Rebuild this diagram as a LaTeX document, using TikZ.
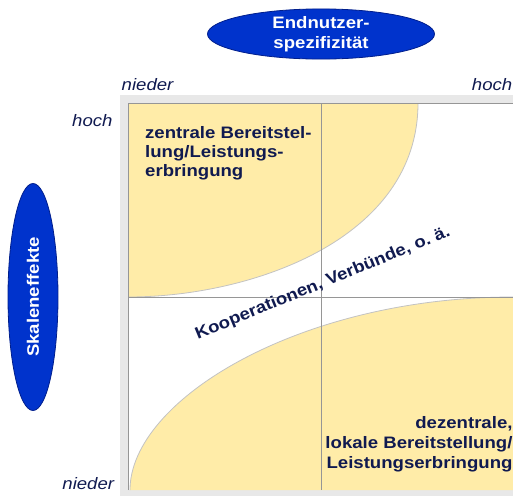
\documentclass[tikz,border=0pt]{standalone}
\usepackage{fontspec}
\setmainfont{Liberation Sans}[FakeStretch=1.12]
\usetikzlibrary{shapes.geometric}
\definecolor{navy}{RGB}{16,26,80}
\definecolor{pale}{RGB}{255,236,168}
\definecolor{blob}{RGB}{0,51,204}
\definecolor{rim}{RGB}{0,30,140}
\definecolor{frame}{RGB}{232,232,232}
\definecolor{rule}{RGB}{150,150,150}
\definecolor{edge}{RGB}{195,195,195}

\begin{document}
\begin{tikzpicture}[
 x=1pt, y=-1pt,
 inner sep=0pt,
 font=\fontsize{16.6}{18.7}\selectfont,
 pill/.style={ellipse,fill=blob,draw=rim,line width=0.8pt,text=white,align=center,
   font=\fontsize{16.6}{20}\selectfont\bfseries,minimum width=227pt,minimum height=50pt},
 tick/.style={text=navy,font=\fontsize{16.6}{18.7}\selectfont\itshape},
 label/.style={text=navy,font=\fontsize{16.6}{18.7}\selectfont\bfseries},
 region/.style={fill=pale},
 border/.style={draw=edge,line width=0.8pt}
]
\useasboundingbox (0,0) rectangle (513,496);
\fill [frame] (120,95) rectangle (513,496);
\fill [white] (128,103) rectangle (513,490);
% yellow areas
\fill [region] (128,103) -- (418,103) .. controls (418,240) and (250,297) .. (128,297) -- cycle;
\fill [region] (130,490) .. controls (130,400) and (300,297) .. (513,297) -- (513,490) -- cycle;
\draw [border] (418,103) .. controls (418,240) and (250,297) .. (128,297);
\draw [border] (130,490) .. controls (130,400) and (300,297) .. (513,297);
% quadrant lines
\draw [rule] (128,490) -- (128,103) -- (513,103);
\draw [rule] (321,103) -- (321,490);
\draw [rule] (128,297) -- (513,297);
% axes
\node (spec-axis) [pill] at (321,34) {Endnutzer-\\spezifizität};
\node (scale-axis) [pill,rotate=90] at (33,297) {Skaleneffekte};
\node (spec-low) [tick,anchor=base west] at (121.5,90.5) {nieder};
\node (spec-high) [tick,anchor=base east] at (512.5,90.5) {hoch};
\node (scale-high) [tick,anchor=base east] at (112.7,126) {hoch};
\node (scale-low) [tick,anchor=base east] at (114.3,489.3) {nieder};
% labels
\node (central) [label,align=left,anchor=north west] at (145,126.4)
  {zentrale Bereitstel-\\lung/Leistungs-\\erbringung};
\node (local) [label,align=right,anchor=north east,font=\fontsize{16.6}{20}\selectfont\bfseries]
  at (512.7,415.8) {dezentrale,\\lokale Bereitstellung/\\Leistungserbringung};
\node (coop) [label,rotate=22.4,anchor=base] at (324.5,287.5) {Kooperationen, Verbünde, o.~ä.};
\end{tikzpicture}
\end{document}
